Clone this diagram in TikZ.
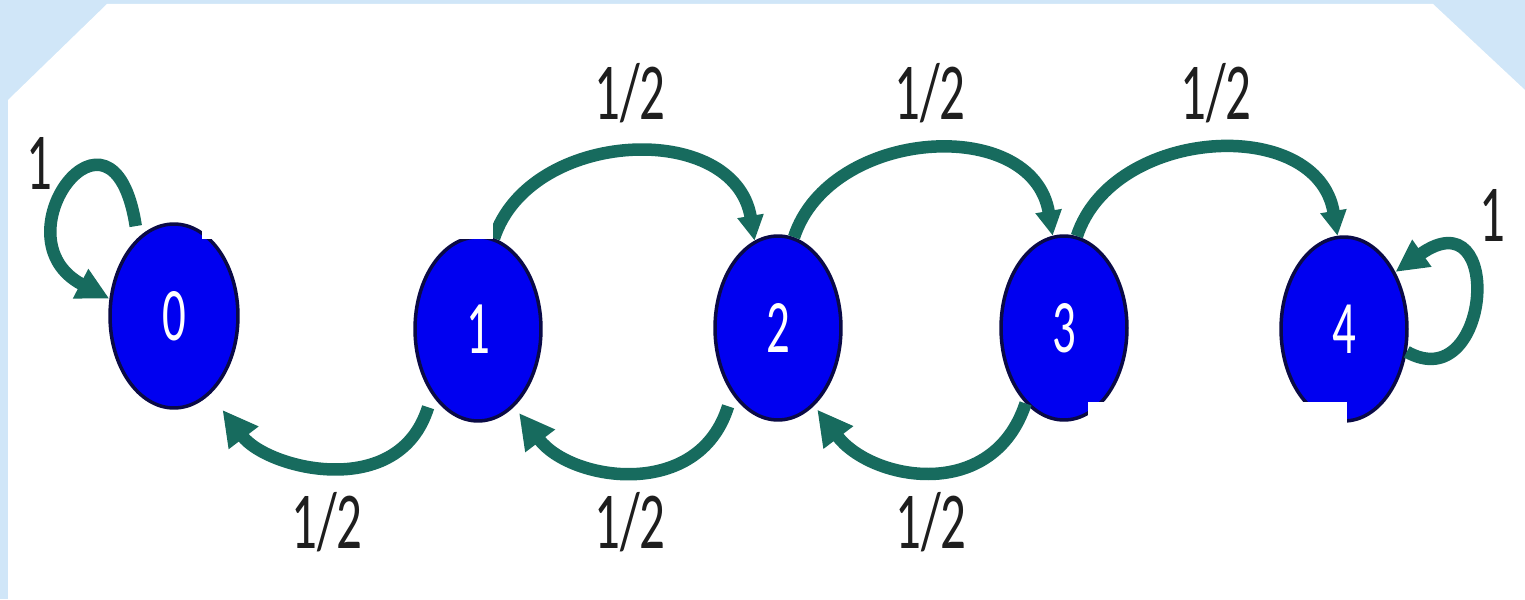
\documentclass[tikz,border=0pt]{standalone}
\usepackage{fontspec}
\setmainfont{Carlito}
\usetikzlibrary{arrows.meta,shapes.geometric}
\definecolor{bgblue}{RGB}{208,230,248}
\definecolor{tealarc}{RGB}{23,107,94}
\definecolor{nodeblue}{RGB}{0,0,240}
\definecolor{nodeedge}{RGB}{10,10,70}
\definecolor{labelink}{RGB}{30,30,30}
\begin{document}
\begin{tikzpicture}[x=0.02cm,y=0.02cm,
  state/.style={ellipse,fill=nodeblue,draw=nodeedge,line width=0.07cm,
    minimum width=2.52cm,minimum height=3.68cm,inner sep=0pt,text=white,
    font=\fontsize{43}{43}\selectfont},
  prob/.style={anchor=base,inner sep=0pt,text=labelink,
    font=\fontsize{46}{46}\selectfont},
  arc/.style={draw=tealarc,line width=0.25cm},
  toparr/.style={arc,-{Triangle[length=0.5cm,width=0.5cm]}},
  botarr/.style={arc,-{Triangle[length=0.7cm,width=0.7cm]}},
  looparr/.style={arc,-{Triangle[length=0.65cm,width=0.62cm]}},
  patch/.style={fill=white,draw=none}]
\useasboundingbox (0,0) rectangle (1525,599);
% background
\fill[bgblue] (0,0) rectangle (1525,599);
\fill[white] (107,595) -- (1433,595) -- (1525,509) -- (1525,0) -- (8,0) -- (8,499) -- cycle;
% states
\node[state,minimum width=2.56cm] (n0) at (174,283) {\scalebox{0.62}[1]{0}};
\node[state] (n1) at (478,270) {\scalebox{0.62}[1]{1}};
\node[state] (n2) at (778,271) {\scalebox{0.62}[1]{2}};
\node[state] (n3) at (1064,271) {\scalebox{0.62}[1]{3}};
\node[state] (n4) at (1344,270) {\scalebox{0.62}[1]{4}};
% forward arcs
\draw[toparr] (n1.80) .. controls +(36,110) and +(-20,121) .. (n2.105);
\draw[toparr] (n2.80) .. controls +(36,110) and +(-20,121) .. (n3.97);
\draw[toparr] (n3.82) .. controls +(36,110) and +(-20,121) .. (n4.94);
% backward arcs
\draw[botarr,shorten <=0.26cm,shorten >=0.4cm] (n1.-125) .. controls +(-33,-107) and +(57,-75) .. (n0.-65);
\draw[botarr,shorten <=0.26cm,shorten >=0.16cm] (n2.-125) .. controls +(-33,-107) and +(57,-75) .. (n1.-65);
\draw[botarr,shorten >=0.1cm] (n3.-117) .. controls +(-33,-100) and +(57,-75) .. (n2.-65);
% self loops
\draw[looparr,shorten <=0.24cm] (n0.115) .. controls +(-25,160) and +(-115,60) .. (n0.165);
\draw[looparr] (n4.-20) .. controls +(84,-47) and +(110,78) .. (n4.48);
% cover patches
\fill[patch] (202,360) rectangle (493,595);
\fill[patch] (1088,0) rectangle (1347,197);
% labels
\node[prob] (l12) at (630,479) {\scalebox{0.63}[1]{1/2}};
\node[prob] (l23) at (930,479) {\scalebox{0.63}[1]{1/2}};
\node[prob] (l34) at (1216,479) {\scalebox{0.63}[1]{1/2}};
\node[prob] (l10) at (327,51) {\scalebox{0.63}[1]{1/2}};
\node[prob] (l21) at (630,51) {\scalebox{0.63}[1]{1/2}};
\node[prob] (l32) at (931,51) {\scalebox{0.63}[1]{1/2}};
\node[prob] (l00) at (39,409) {\scalebox{0.63}[1]{1}};
\node[prob] (l44) at (1492,357) {\scalebox{0.63}[1]{1}};
\end{tikzpicture}
\end{document}
